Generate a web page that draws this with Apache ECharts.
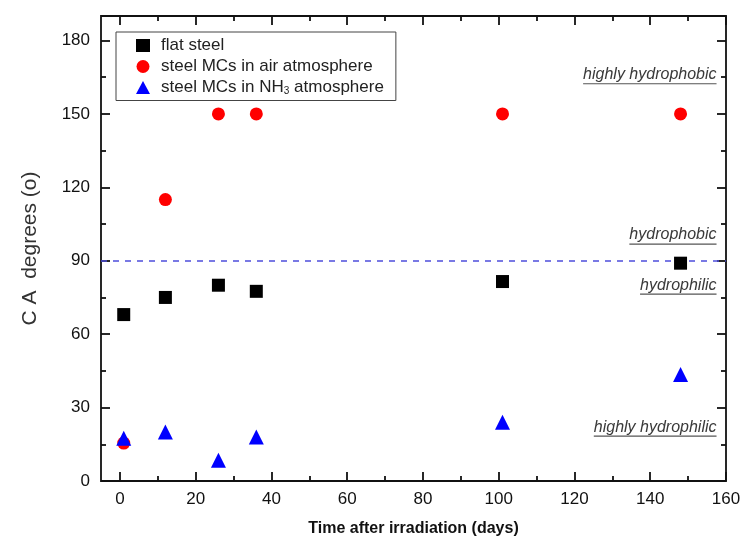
<!DOCTYPE html>
<html>
<head>
<meta charset="utf-8">
<script src="https://cdn.jsdelivr.net/npm/echarts@6/dist/echarts.min.js"></script>
<style>
  html, body { margin: 0; padding: 0; background: #fff; }
  #main { width: 745px; height: 544px; }
</style>
</head>
<body>
<div id="main"></div>
<script>
// days after irradiation
var days = [1, 12, 26, 36, 101, 148];
// contact angle, degrees
var flatSteel = [68, 75, 80, 77.5, 81.5, 89];
var mcsAir = [15.5, 115, 150, 150, 150, 150];
var mcsNH3 = [17.5, 20, 8.5, 18, 24, 43.5];

var xMajor = [0, 20, 40, 60, 80, 100, 120, 140, 160];
var xMinor = [10, 30, 50, 70, 90, 110, 130, 150];
var yMajor = [0, 30, 60, 90, 120, 150, 180];
var yMinor = [15, 45, 75, 105, 135, 165];

var regionLabels = ['highly hydrophobic', 'hydrophobic', 'hydrophilic', 'highly hydrophilic'];
var regionLevels = [166, 100.5, 80, 22];

function pairs(ys) {
    var out = [];
    for (var i = 0; i < days.length; i++) out.push([days[i], ys[i]]);
    return out;
}

var chart = echarts.init(document.getElementById('main'));

var xBase = { type: 'value', min: -5, max: 160, gridIndex: 0,
    splitLine: { show: false }, axisLine: { show: false, onZero: false } };
var yBase = { type: 'value', min: 0, max: 190, gridIndex: 0,
    splitLine: { show: false }, axisLine: { show: false, onZero: false } };

function tickAxis(base, extra) {
    return Object.assign({}, base, extra);
}

var tickLine = { color: '#111', width: 1.8 };

var option = {
    animation: false,
    backgroundColor: '#fff',
    textStyle: { fontFamily: 'Liberation Sans, Arial, sans-serif' },
    grid: {
        left: 101, right: 19, top: 16, bottom: 63,
        show: true, borderColor: '#111', borderWidth: 1.8, backgroundColor: 'transparent'
    },
    legend: {
        orient: 'vertical',
        left: 116, top: 32,
        padding: [5, 12, 4, 20],
        borderColor: '#444', borderWidth: 1,
        itemWidth: 14, itemHeight: 13, itemGap: 4,
        textStyle: {
            fontSize: 17, color: '#222', padding: [0, 0, 0, 6], lineHeight: 17,
            rich: {
                t: { fontSize: 17, color: '#222' },
                sub: { fontSize: 10, color: '#222', padding: [8, 0, 0, 0] }
            }
        },
        formatter: function (name) {
            if (name.indexOf('NH3') >= 0) return '{t|steel MCs in NH}{sub|3}{t| atmosphere}';
            return name;
        },
        data: ['flat steel', 'steel MCs in air atmosphere', 'steel MCs in NH3 atmosphere']
    },
    xAxis: [
        tickAxis(xBase, {
            position: 'bottom',
            name: 'Time after irradiation (days)', nameLocation: 'middle', nameGap: 40,
            nameTextStyle: { fontSize: 16, fontWeight: 'bold', color: '#111' },
            axisTick: { show: true, inside: true, length: 9, customValues: xMajor, lineStyle: tickLine },
            axisLabel: { show: true, margin: 10, fontSize: 17, color: '#111', customValues: xMajor }
        }),
        tickAxis(xBase, {
            position: 'bottom',
            axisTick: { show: true, inside: true, length: 5, customValues: xMinor, lineStyle: tickLine },
            axisLabel: { show: false }
        }),
        tickAxis(xBase, {
            position: 'top',
            axisTick: { show: true, inside: true, length: 9, customValues: xMajor, lineStyle: tickLine },
            axisLabel: { show: false }
        }),
        tickAxis(xBase, {
            position: 'top',
            axisTick: { show: true, inside: true, length: 5, customValues: xMinor, lineStyle: tickLine },
            axisLabel: { show: false }
        })
    ],
    yAxis: [
        tickAxis(yBase, {
            position: 'left',
            name: 'C A  degrees (o)', nameLocation: 'middle', nameGap: 60,
            nameTextStyle: { fontSize: 21, color: '#333' },
            axisTick: { show: true, inside: true, length: 9, customValues: yMajor, lineStyle: tickLine },
            axisLabel: { show: true, margin: 11, fontSize: 17, color: '#111', customValues: yMajor }
        }),
        tickAxis(yBase, {
            position: 'left',
            axisTick: { show: true, inside: true, length: 5, customValues: yMinor, lineStyle: tickLine },
            axisLabel: { show: false }
        }),
        tickAxis(yBase, {
            position: 'right',
            axisTick: { show: true, inside: true, length: 9, customValues: yMajor, lineStyle: tickLine },
            axisLabel: { show: false }
        }),
        tickAxis(yBase, {
            position: 'right',
            axisTick: { show: true, inside: true, length: 5, customValues: yMinor, lineStyle: tickLine },
            axisLabel: { show: false }
        })
    ],
    series: [
        {
            name: 'flat steel', type: 'scatter',
            symbol: 'rect', symbolSize: 13,
            itemStyle: { color: '#000', opacity: 1 },
            data: pairs(flatSteel),
            z: 3
        },
        {
            name: 'steel MCs in air atmosphere', type: 'scatter',
            symbol: 'circle', symbolSize: 13,
            itemStyle: { color: '#ff0000', opacity: 1 },
            data: pairs(mcsAir),
            z: 2,
            markLine: {
                silent: true, symbol: 'none', z: 1,
                label: { show: false },
                lineStyle: { color: '#4d4ddb', type: [6, 6], width: 1.5 },
                data: [{ yAxis: 90 }]
            }
        },
        {
            name: 'steel MCs in NH3 atmosphere', type: 'scatter',
            symbol: 'triangle', symbolSize: 15,
            itemStyle: { color: '#0000ff', opacity: 1 },
            data: pairs(mcsNH3),
            z: 4
        }
    ]
};

chart.setOption(option);

// region labels: italic, underlined, right aligned near the right axis
var font = 'italic 16px "Liberation Sans", Arial, sans-serif';
var ctx = document.createElement('canvas').getContext('2d');
ctx.font = font;
var graphics = [];
for (var i = 0; i < regionLabels.length; i++) {
    var p = chart.convertToPixel({ gridIndex: 0 }, [157.5, regionLevels[i]]);
    var w = ctx.measureText(regionLabels[i]).width;
    graphics.push({
        type: 'text', x: p[0], y: p[1],
        style: { text: regionLabels[i], font: font, fill: '#3a3a3a', align: 'right', verticalAlign: 'middle' }
    });
    graphics.push({
        type: 'line',
        shape: { x1: p[0] - w, y1: p[1] + 9, x2: p[0], y2: p[1] + 9 },
        style: { stroke: '#555', lineWidth: 1.2 }
    });
}
chart.setOption({ graphic: graphics });
</script>
</body>
</html>
